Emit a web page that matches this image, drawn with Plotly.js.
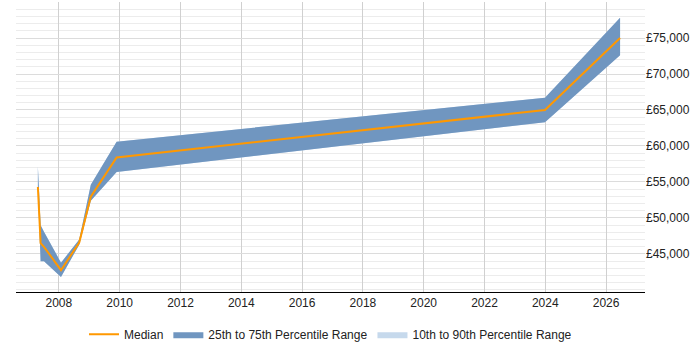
<!DOCTYPE html>
<html>
<head>
<meta charset="utf-8">
<script src="https://cdn.plot.ly/plotly-3.0.1.min.js"></script>
<style>
  html, body { margin: 0; padding: 0; background: #fff; }
  #chart { width: 700px; height: 350px; }
</style>
</head>
<body>
<div id="chart"></div>
<script>
// Salary trend by date (decimal years)
var years  = [2007.31, 2007.40, 2007.51, 2008.07, 2008.67, 2009.05, 2009.90, 2023.99, 2026.46];
var median = [54300, 46500, 46000, 42750, 46600, 52950, 58400, 65000, 75000];
var p25    = [53800, 44000, 44000, 41800, 46300, 52400, 56400, 63300, 72600];
var p75    = [57100, 49000, 48100, 43800, 47000, 54600, 60600, 66700, 77800];
var p10    = [53800, 44000, 44000, 41800, 46300, 52400, 56400, 63300, 72600];
var p90    = [57100, 49000, 48100, 43800, 47000, 54600, 60600, 66700, 77800];

// Labelled salary ticks on the right-hand axis
var yTicks = [45000, 50000, 55000, 60000, 65000, 70000, 75000];
var yTickText = yTicks.map(function (v) { return '£' + v.toLocaleString('en-GB'); });

var bandDark  = 'rgb(112,150,192)';
var bandLight = 'rgb(198,217,236)';
var orange    = 'rgb(255,152,0)';

var traces = [
  { x: years, y: p10, mode: 'lines', line: { width: 0, color: bandLight },
    showlegend: false, hoverinfo: 'skip' },
  { x: years, y: p90, mode: 'lines', line: { width: 0, color: bandLight },
    fill: 'tonexty', fillcolor: bandLight, name: '10th to 90th Percentile Range',
    legendrank: 3 },
  { x: years, y: p25, mode: 'lines', line: { width: 0, color: bandDark },
    showlegend: false, hoverinfo: 'skip' },
  { x: years, y: p75, mode: 'lines', line: { width: 0, color: bandDark },
    fill: 'tonexty', fillcolor: bandDark, name: '25th to 75th Percentile Range',
    legendrank: 2 },
  { x: years, y: median, mode: 'lines', line: { width: 2, color: orange },
    name: 'Median', legendrank: 1 }
];

var layout = {
  width: 700, height: 350,
  margin: { l: 16, r: 55, t: 2, b: 58 },
  paper_bgcolor: '#fff', plot_bgcolor: '#fff',
  font: { family: 'Liberation Sans, Arial, sans-serif', size: 12, color: '#222' },
  showlegend: true,
  legend: {
    orientation: 'h', x: 0.5, xanchor: 'center',
    yref: 'container', y: 0.045, yanchor: 'middle',
    font: { size: 12, color: '#222' }, traceorder: 'normal'
  },
  xaxis: {
    range: [2006.59, 2027.28],
    tick0: 2008, dtick: 2,
    showgrid: true, gridcolor: '#d0d0d0', gridwidth: 1,
    zeroline: false,
    showline: true, linecolor: '#000', linewidth: 1,
    ticks: '', tickfont: { size: 12, color: '#222' }
  },
  yaxis: {
    side: 'right',
    range: [39720, 80000],
    tickmode: 'array', tickvals: yTicks, ticktext: yTickText,
    showgrid: true, gridcolor: '#dcdcdc', gridwidth: 1,
    minor: { tick0: 0, dtick: 1000, showgrid: true, gridcolor: '#ececec', gridwidth: 1 },
    zeroline: false, showline: false, ticks: '',
    tickfont: { size: 12, color: '#222' }
  }
};

Plotly.newPlot('chart', traces, layout, { displayModeBar: false, staticPlot: true });
</script>
</body>
</html>
